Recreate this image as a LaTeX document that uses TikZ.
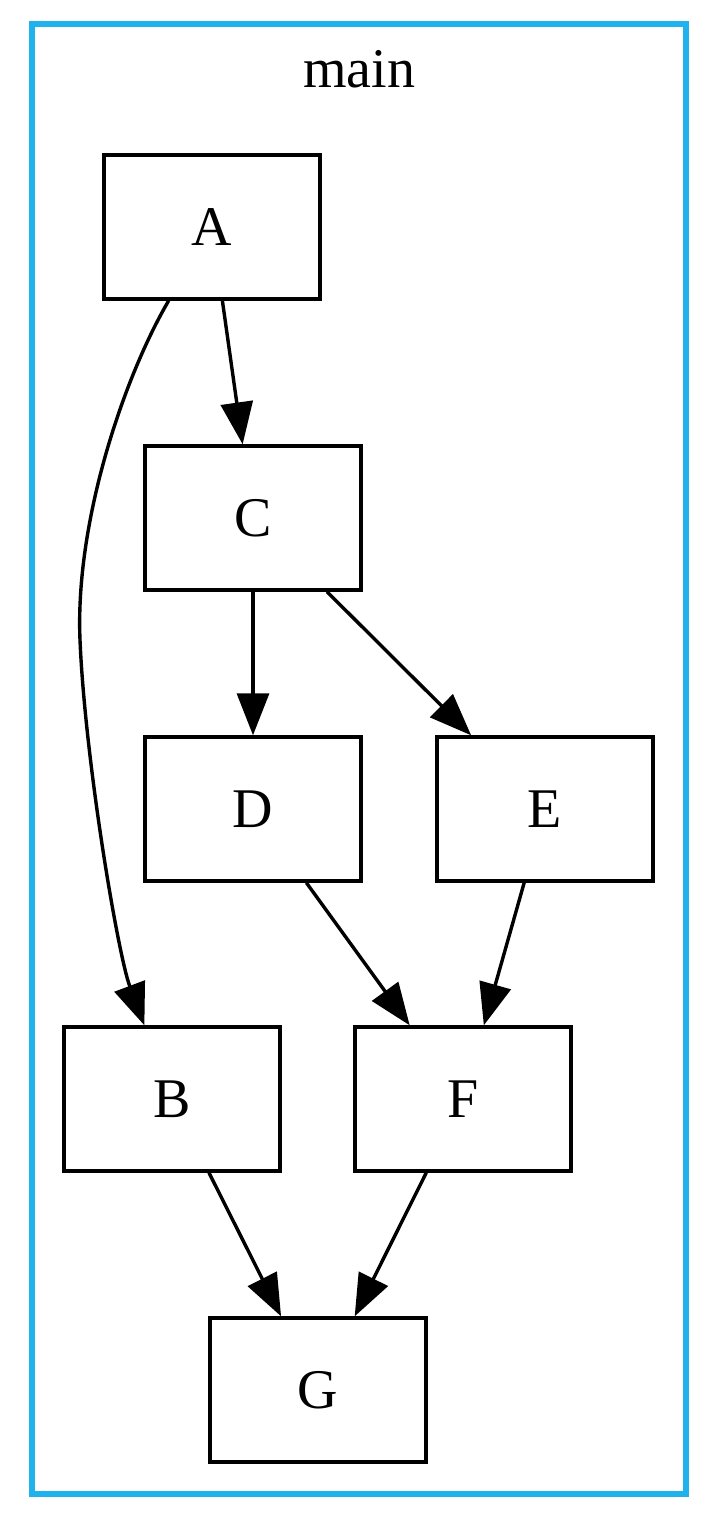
\documentclass[tikz,border=0pt]{standalone}
\usepackage{fontspec}
\setmainfont{Liberation Serif}
\usetikzlibrary{arrows.meta}
\definecolor{clusterblue}{RGB}{32,178,236}
\begin{document}
\begin{tikzpicture}[x=0.25pt,y=-0.25pt,
  box/.style={draw=black, line width=0.85pt, minimum width=54pt, minimum height=36pt, inner sep=0pt, font=\fontsize{14pt}{16pt}\selectfont},
  edge/.style={draw=black, line width=0.85pt, -{Triangle[length=10.5pt,width=8pt]}},
  cluster/.style={draw=clusterblue, line width=1.5pt}]
\useasboundingbox (0,0) rectangle (710,1526);
\draw[cluster] (32,24) rectangle (686,1494);
\node[anchor=base, font=\fontsize{14pt}{16pt}\selectfont] (title) at (359,88) {main};
\node[box] (A) at (212,227) {A};
\node[box] (C) at (253,518) {C};
\node[box] (D) at (253,809) {D};
\node[box] (E) at (545,809) {E};
\node[box] (B) at (172,1099) {B};
\node[box] (F) at (463,1099) {F};
\node[box] (G) at (318,1390) {G};
\draw[edge] (A) -- (C);
\draw[edge] (C) -- (D);
\draw[edge] (C) -- (E);
\draw[edge] (D) -- (F);
\draw[edge] (E) -- (F);
\draw[edge] (B) -- (G);
\draw[edge] (F) -- (G);
\draw[edge] (A) .. controls (125,375) and (75,520) .. (80,640) .. controls (85,760) and (118,955) .. (B);
\end{tikzpicture}
\end{document}
